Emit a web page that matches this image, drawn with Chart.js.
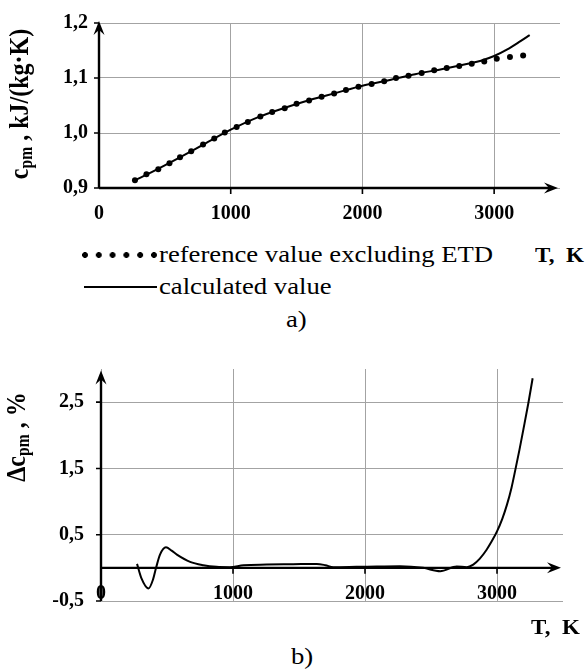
<!DOCTYPE html>
<html>
<head>
<meta charset="utf-8">
<script src="https://cdn.jsdelivr.net/npm/chart.js@4.4.1/dist/chart.umd.min.js"></script>
<style>
  html, body { margin: 0; padding: 0; background: #fff; }
  #page { position: relative; width: 586px; height: 671px; overflow: hidden;
          font-family: "Liberation Serif", "Times New Roman", serif; color: #000; }
  canvas { position: absolute; left: 0; }
  .txt { position: absolute; white-space: nowrap; line-height: 1; transform-origin: 0 50%; }
  .ytitle { position: absolute; white-space: nowrap; line-height: 1; font-weight: bold; font-size: 24px;
            transform: translate(-50%, -50%) rotate(-90deg) scaleY(1.15); }
  .ytitle sub { font-size: 65%; vertical-align: -0.25em; }
  .tk { font-weight: bold; font-size: 20px; transform: scaleX(1.15); }
  .lg { font-size: 23px; transform: scaleX(1.16); }
</style>
</head>
<body>
<div id="page">
  <canvas id="chartA"></canvas>
  <canvas id="chartB"></canvas>

  <div class="ytitle" style="left:20px; top:104px;">c<sub>pm</sub> , kJ/(kg·K)</div>
  <div class="ytitle" style="left:17px; top:437px;">Δc<sub>pm</sub> , %</div>

  <div id="dots" style="position:absolute; left:82px; top:252px; width:75px; height:6px;
       background: radial-gradient(circle at 3px 3px, #000 2.6px, transparent 3.2px) repeat-x;
       background-size: 13.8px 6px;"></div>
  <div class="txt lg" style="left:159px; top:243px;">reference value excluding ETD</div>
  <div style="position:absolute; left:84px; top:286px; width:73px; height:2px; background:#000;"></div>
  <div class="txt lg" style="left:159px; top:275px;">calculated value</div>
  <div class="txt tk" style="left:535px; top:245px;">T,&nbsp; K</div>
  <div class="txt lg" style="left:286px; top:308px;">a)</div>

  <div class="txt tk" style="left:531px; top:617px;">T,&nbsp; K</div>
  <div class="txt lg" style="left:291px; top:645px;">b)</div>
</div>

<script>
// a) mean heat capacity, reference points (T, K -> kJ/(kg·K))
const refT = [273, 360, 450, 535, 615, 700, 790, 875, 955, 1045, 1130,
  1225, 1315, 1410, 1500, 1595, 1690, 1785, 1875, 1970, 2070, 2165, 2255,
  2350, 2450, 2545, 2640, 2735, 2830, 2925, 3020, 3120, 3220];
const refCp = [0.914, 0.925, 0.934, 0.945, 0.956, 0.967, 0.979, 0.990, 1.001, 1.011, 1.020,
  1.030, 1.038, 1.045, 1.053, 1.059, 1.066, 1.072, 1.078, 1.084, 1.089, 1.094, 1.100,
  1.104, 1.109, 1.114, 1.118, 1.122, 1.126, 1.130, 1.135, 1.138, 1.141];

// a) calculated curve
const calcT = [273, 400, 600, 800, 1000, 1200, 1400, 1600, 1800, 2000, 2200, 2400,
  2600, 2800, 2900, 3000, 3100, 3200, 3270];
const calcCp = [0.914, 0.929, 0.954, 0.980, 1.006, 1.028, 1.045, 1.060, 1.073, 1.086, 1.096, 1.107,
  1.116, 1.126, 1.1315, 1.140, 1.152, 1.167, 1.178];

// b) deviation, %
const devT = [273, 305, 360, 395, 417, 447, 492, 535, 575, 675, 775, 875, 975, 1080, 1255,
  1455, 1635, 1700, 1760, 1935, 2090, 2265, 2440, 2570, 2695, 2770, 2820, 2870, 2920,
  2960, 3000, 3040, 3075, 3110, 3140, 3170, 3200, 3237, 3270];
const devVal = [0.06, -0.15, -0.31, -0.17, 0.0, 0.20, 0.31, 0.26, 0.20, 0.09, 0.04, 0.015, 0.01, 0.04, 0.05,
  0.055, 0.06, 0.04, 0.01, 0.015, 0.02, 0.025, 0.0, -0.05, 0.02, 0.01, 0.05, 0.14, 0.27,
  0.40, 0.55, 0.74, 0.95, 1.21, 1.49, 1.78, 2.09, 2.48, 2.86];

const xTicks = [0, 1000, 2000, 3000];
const yTicksA = [0.9, 1.0, 1.1, 1.2];
const yTicksB = [-0.5, 0.5, 1.5, 2.5];

const serif = '"Liberation Serif", "Times New Roman", serif';
const comma = v => String(v.toFixed(1)).replace('.', ',');

// black axes with arrow heads and small tick marks
const axisArrows = {
  id: 'axisArrows',
  beforeDatasetsDraw(chart, args, opts) {
    const { ctx, chartArea, scales } = chart;
    const x0 = scales.x.getPixelForValue(0);
    const y0 = scales.y.getPixelForValue(opts.crossY);
    const yBottom = scales.y.getPixelForValue(scales.y.min);
    const tipY = chartArea.top + opts.tipTop;
    const tipX = chartArea.right - opts.tipRight;

    ctx.save();
    ctx.strokeStyle = '#000';
    ctx.fillStyle = '#000';
    ctx.lineWidth = 2.4;

    ctx.beginPath();
    ctx.moveTo(x0, yBottom);
    ctx.lineTo(x0, tipY + 6);
    ctx.moveTo(x0, y0);
    ctx.lineTo(tipX - 6, y0);
    ctx.stroke();

    const arrow = (tx, ty, dx, dy) => {
      const px = -dy, py = dx;
      ctx.beginPath();
      ctx.moveTo(tx, ty);
      ctx.lineTo(tx - dx * 14 + px * 5.5, ty - dy * 14 + py * 5.5);
      ctx.lineTo(tx - dx * 9, ty - dy * 9);
      ctx.lineTo(tx - dx * 14 - px * 5.5, ty - dy * 14 - py * 5.5);
      ctx.closePath();
      ctx.fill();
    };
    arrow(x0, tipY, 0, -1);
    arrow(tipX, y0, 1, 0);

    ctx.lineWidth = 1.6;
    ctx.beginPath();
    scales.y.ticks.forEach(t => {
      const y = scales.y.getPixelForValue(t.value);
      ctx.moveTo(x0 - 5, y);
      ctx.lineTo(x0, y);
    });
    scales.x.ticks.forEach(t => {
      if (t.value === 0) return;
      const x = scales.x.getPixelForValue(t.value);
      ctx.moveTo(x, y0);
      ctx.lineTo(x, y0 + 6);
    });
    ctx.stroke();
    ctx.restore();
  }
};

function baseOptions(cfg) {
  const x = {
    type: 'linear',
    min: 0,
    max: 3500,
    afterBuildTicks: s => { s.ticks = xTicks.map(v => ({ value: v })); },
    border: { display: false },
    grid: { color: '#a3a3a3', lineWidth: 1, drawTicks: false },
    ticks: {
      color: '#000',
      padding: cfg.xPad,
      maxRotation: 0,
      autoSkip: false,
      font: { family: serif, size: 20, weight: 'bold' },
      callback: v => String(v)
    }
  };
  if (cfg.xPos !== undefined) {
    x.position = { y: cfg.xPos };
  } else {
    x.afterFit = s => { s.height = cfg.xHeight; };
  }

  return {
    responsive: false,
    animation: false,
    events: [],
    layout: { padding: { top: cfg.padTop, right: cfg.padRight, left: 0, bottom: cfg.padBottom || 0 } },
    plugins: {
      legend: { display: false },
      tooltip: { enabled: false },
      axisArrows: { crossY: cfg.crossY, tipTop: cfg.tipTop, tipRight: cfg.tipRight }
    },
    scales: {
      x,
      y: {
        type: 'linear',
        min: cfg.yMin,
        max: cfg.yMax,
        afterBuildTicks: s => { s.ticks = cfg.yTicks.map(v => ({ value: v })); },
        afterFit: s => { s.width = cfg.yWidth; },
        border: { display: false },
        grid: { color: '#a3a3a3', lineWidth: 1, drawTicks: false },
        ticks: {
          color: '#000',
          padding: cfg.yPad,
          font: { family: serif, size: 20, weight: 'bold' },
          callback: v => comma(v)
        }
      }
    }
  };
}

function setupCanvas(id, top, h) {
  const c = document.getElementById(id);
  c.width = 586;
  c.height = h;
  c.style.width = '586px';
  c.style.height = h + 'px';
  c.style.top = top + 'px';
  return c;
}

const canvasA = setupCanvas('chartA', 0, 236);
new Chart(canvasA, {
  type: 'scatter',
  data: {
    datasets: [
      {
        label: 'reference value excluding ETD',
        data: refT.map((t, i) => ({ x: t, y: refCp[i] })),
        showLine: false,
        pointRadius: 3,
        pointBackgroundColor: '#000',
        pointBorderColor: '#000',
        pointBorderWidth: 0
      },
      {
        label: 'calculated value',
        data: calcT.map((t, i) => ({ x: t, y: calcCp[i] })),
        showLine: true,
        borderColor: '#000',
        borderWidth: 2,
        pointRadius: 0,
        cubicInterpolationMode: 'monotone'
      }
    ]
  },
  options: baseOptions({
    padTop: 18, padRight: 26, crossY: 0.9, tipTop: -2, tipRight: 2,
    xHeight: 48, xPad: 14, yMin: 0.9, yMax: 1.2, yTicks: yTicksA, yWidth: 99, yPad: 11
  }),
  plugins: [axisArrows]
});

const canvasB = setupCanvas('chartB', 340, 290);
new Chart(canvasB, {
  type: 'scatter',
  data: {
    datasets: [
      {
        label: 'Δcpm',
        data: devT.map((t, i) => ({ x: t, y: devVal[i] })),
        showLine: true,
        borderColor: '#000',
        borderWidth: 2,
        pointRadius: 0,
        cubicInterpolationMode: 'monotone'
      }
    ]
  },
  options: baseOptions({
    padTop: 26.7, padRight: 23, padBottom: 0, crossY: 0, tipTop: 1.5, tipRight: 2,
    xPos: -0.21, xPad: 0, yMin: -0.5, yMax: 3.0, yTicks: yTicksB, yWidth: 101, yPad: 17
  }),
  plugins: [axisArrows]
});
</script>
</body>
</html>
